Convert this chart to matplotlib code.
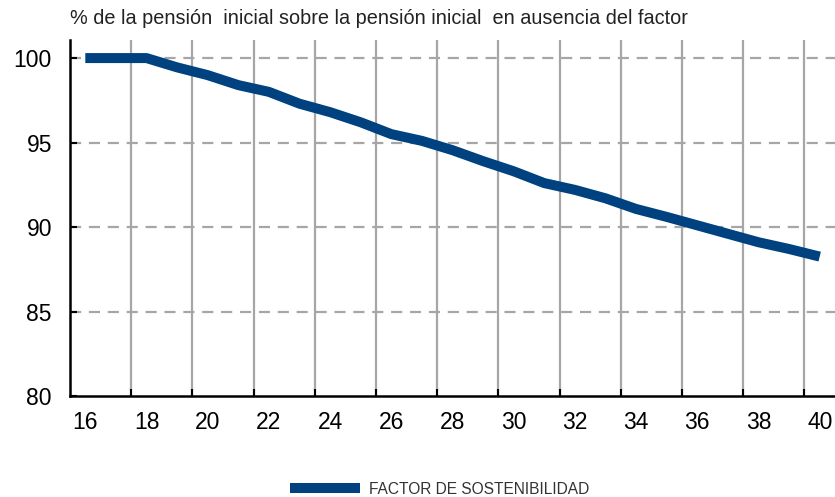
import matplotlib
matplotlib.use('Agg')
import matplotlib.pyplot as plt
from matplotlib.ticker import FixedLocator

# data
years = list(range(16, 41))
factor = [100.0, 100.0, 100.0, 99.45, 98.99, 98.4, 98.0, 97.3, 96.8, 96.2,
          95.5, 95.1, 94.55, 93.9, 93.3, 92.6, 92.2, 91.7, 91.07, 90.6,
          90.1, 89.6, 89.1, 88.7, 88.25]
xtick_labels = [str(y) for y in range(16, 41, 2)]
yticks = [80, 85, 90, 95, 100]

title = '% de la pensión  inicial sobre la pensión inicial  en ausencia del factor'
series_name = 'FACTOR DE SOSTENIBILIDAD'

blue = '#00427F'
grid_gray = '#A6A6A6'

plt.rcParams['font.family'] = ['Liberation Sans', 'DejaVu Sans']

fig = plt.figure(figsize=(8.35, 4.97), dpi=100)
ax = fig.add_axes([70 / 835, 1 - 396 / 497, 1 - 70 / 835, (396 - 40) / 497])

line, = ax.plot(years, factor, color=blue, lw=7.2, solid_capstyle='butt',
                solid_joinstyle='round', zorder=3, label=series_name)

ax.set_xlim(15.5, 40.5)
ax.set_ylim(80, 101.07)

# labels sit on the categories, ticks and gridlines sit between them
ax.set_xticks(range(16, 41, 2))
ax.set_xticklabels(xtick_labels)
ax.xaxis.set_minor_locator(FixedLocator([y + 1.5 for y in range(16, 40, 2)]))
ax.tick_params(axis='x', which='major', length=0, pad=11, labelsize=16.5)
ax.tick_params(axis='x', which='minor', direction='in', length=5, width=1.5)
ax.grid(axis='x', which='minor', color=grid_gray, lw=1.6, ls='-', zorder=1)

ax.set_yticks(yticks)
ax.tick_params(axis='y', direction='in', length=5, width=1.5, pad=13, labelsize=16.5)
for v in yticks[1:]:
    ax.axhline(v, color=grid_gray, lw=1.6, ls=(0, (5, 3.5)), zorder=1)

for side in ['top', 'right']:
    ax.spines[side].set_visible(False)
for side in ['left', 'bottom']:
    ax.spines[side].set_linewidth(1.8)
    ax.spines[side].set_zorder(4)

fig.text(70 / 835, 1 - 19 / 497, title, fontsize=14.3, va='center', ha='left',
         color='#222222')

leg = fig.legend(handles=[line], loc='center', bbox_to_anchor=(440 / 835, 1 - 489 / 497),
                 frameon=False, handlelength=4.5, handletextpad=0.58,
                 prop={'size': 11.2})
for t in leg.get_texts():
    t.set_color('#333333')

fig.savefig('out.png', dpi=100)
